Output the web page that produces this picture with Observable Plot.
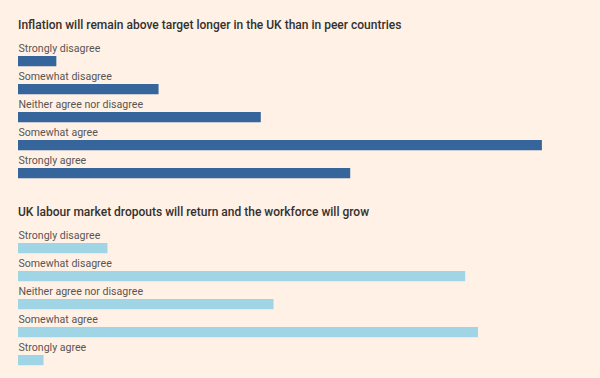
<!DOCTYPE html>
<html>
<head>
<meta charset="utf-8">
<script src="https://cdn.jsdelivr.net/npm/d3@7"></script>
<script src="https://cdn.jsdelivr.net/npm/@observablehq/plot@0.6"></script>
<style>
  html, body { margin: 0; padding: 0; background: #fff1e5; }
  body { width: 600px; height: 378px; overflow: hidden; font-family: Roboto, "Noto Sans", sans-serif; }
  .title { font-size: 12px; font-weight: 500; color: #33302e; line-height: 16px; padding-left: 18px; height: 16px; white-space: nowrap; }
  #t1 { margin-top: 17px; }
  #t2 { margin-top: 20px; }
  svg { display: block; }
</style>
</head>
<body>
<div class="title" id="t1"></div>
<div id="c1"></div>
<div class="title" id="t2"></div>
<div id="c2"></div>
<script>
const categories = ["Strongly disagree", "Somewhat disagree", "Neither agree nor disagree", "Somewhat agree", "Strongly agree"];
const titles = [
  "Inflation will remain above target longer in the UK than in peer countries",
  "UK labour market dropouts will return and the workforce will grow"
];
const inflationValues = [3, 11, 19, 41, 26];
const labourValues = [7, 35, 20, 36, 2];
const colors = ["#35659a", "#a0d5e6"];

function chart(values, color) {
  const data = categories.map((c, i) => ({category: c, value: values[i]}));
  return Plot.plot({
    width: 600,
    height: 151,
    margin: 0,
    style: {background: "transparent", fontFamily: "Roboto, 'Noto Sans', sans-serif"},
    x: {domain: [0, 45], range: [18, 593], axis: null},
    y: {domain: categories, range: [7, 7 + 5 * 28.75], padding: 0, axis: null},
    marks: [
      Plot.barX(data, {x: "value", y: "category", fill: color, insetTop: 14, insetBottom: 3.75}),
      Plot.text(data, {x: 0, y: "category", text: "category", textAnchor: "start", lineAnchor: "bottom", dy: -4.9, fontSize: 10.6, fill: "#5a5552"})
    ]
  });
}

document.getElementById("t1").textContent = titles[0];
document.getElementById("t2").textContent = titles[1];
document.getElementById("c1").appendChild(chart(inflationValues, colors[0]));
document.getElementById("c2").appendChild(chart(labourValues, colors[1]));
</script>
</body>
</html>
